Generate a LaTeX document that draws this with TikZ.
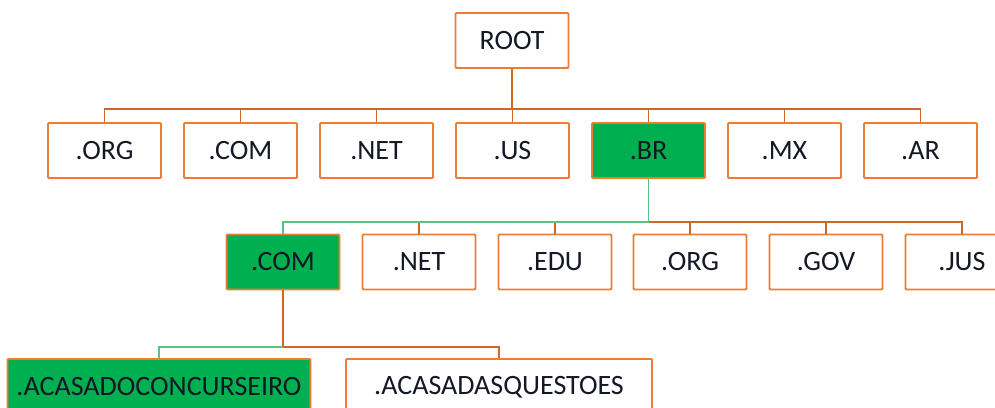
\documentclass[tikz,border=0pt]{standalone}
\usepackage{fontspec}
\setmainfont{Carlito}
\usetikzlibrary{positioning}
\definecolor{dforange}{RGB}{237,125,49}
\definecolor{dflink}{RGB}{206,104,40}
\definecolor{dfgreen}{RGB}{0,176,80}
\definecolor{dflightgreen}{RGB}{92,194,128}
\definecolor{dftext}{RGB}{20,24,36}
\tikzstyle{namebox} = [draw=dforange, line width=1.8pt, rounded corners=1pt, minimum width=113pt, minimum height=55pt, inner sep=0pt, text=dftext, font=\fontsize{28}{32}\selectfont]
\tikzstyle{pickedbox} = [namebox, fill=dfgreen]
\tikzstyle{link} = [line width=1.8pt, color=dflink]
\tikzstyle{greenlink} = [line width=1.8pt, color=dflightgreen]

\begin{document}
\begin{tikzpicture}[x=1pt, y=-1pt]
    \useasboundingbox (0,0) rectangle (995,407);

    % Root
    \node[namebox] (root) at (512,40.5) {ROOT};
    \coordinate (j1) at (512,109);

    % Top level domains
    \foreach \x/\name/\label/\kind in {104.5/org/.ORG/namebox, 240.5/com/.COM/namebox, 376.5/net/.NET/namebox, 512.5/us/.US/namebox, 648.5/br/.BR/pickedbox, 784.5/mx/.MX/namebox, 920.5/ar/.AR/namebox} {
        \node[\kind] (\name) at (\x,150.5) {\label};
        \draw[link] (j1) -| (\name.north);
    }
    \draw[link] (root) -- (j1);

    % Under .BR
    \coordinate (j2) at (648.5,222);
    \foreach \x/\name/\label/\kind in {283/brcom/.COM/pickedbox, 419/brnet/.NET/namebox, 555/bredu/.EDU/namebox, 690/brorg/.ORG/namebox, 826/brgov/.GOV/namebox, 962/brjus/.JUS/namebox} {
        \node[\kind] (\name) at (\x,262) {\label};
        \draw[link] (j2) -| (\name.north);
    }
    \draw[greenlink] (br) -- (j2) -| (brcom.north);

    % Under .COM.BR
    \coordinate (j3) at (283,347);
    \node[pickedbox, minimum width=303pt, minimum height=56pt] (concurseiro) at (159,387) {.ACASADOCONCURSEIRO};
    \node[namebox, minimum width=306pt, minimum height=56pt] (questoes) at (499,387) {.ACASADASQUESTOES};
    \draw[link] (brcom) -- (j3) -| (questoes.north);
    \draw[greenlink] (j3) -| (concurseiro.north);
\end{tikzpicture}
\end{document}
